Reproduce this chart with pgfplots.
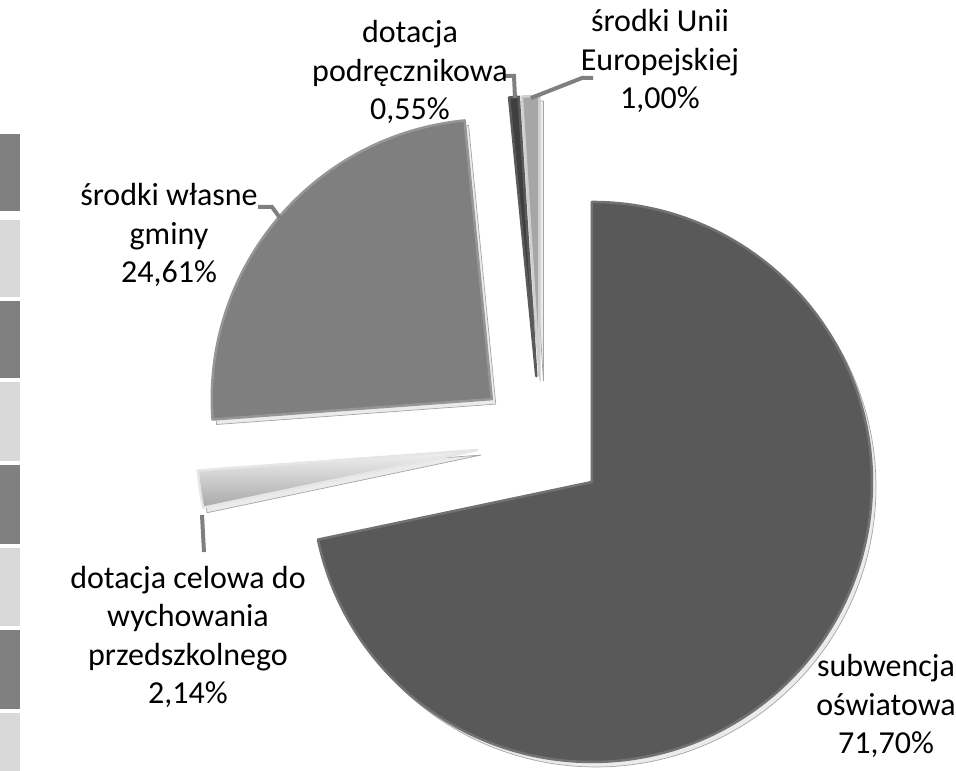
\documentclass[border=0pt]{standalone}
\usepackage{pgfplots}
\pgfplotsset{compat=1.18}
\usepackage{pgfplotstable}
\usepackage{fontspec}
\setmainfont{Carlito}
\definecolor{cSub}{HTML}{595959}
\definecolor{cSubE}{HTML}{727272}
\definecolor{cCel}{HTML}{A8A8A8}
\definecolor{cCelT}{HTML}{F2F2F2}
\definecolor{cCelE}{HTML}{E6E6E6}
\definecolor{cWl}{HTML}{7F7F7F}
\definecolor{cWlE}{HTML}{969696}
\definecolor{cPod}{HTML}{3F3F3F}
\definecolor{cPodE}{HTML}{5A5A5A}
\definecolor{cUE}{HTML}{A6A6A6}
\definecolor{cUEE}{HTML}{CFCFCF}
\definecolor{cLead}{HTML}{7F7F7F}
\definecolor{cBoxD}{HTML}{808080}
\definecolor{cBoxL}{HTML}{D9D9D9}

% shares in percent, clockwise from 12 o'clock
\pgfplotstableread{
share
71.70
2.14
24.61
0.55
1.00
}\piedata

\def\Px{541.5}\def\Py{330}\def\R{280}\def\D{65}

\newcommand\slice[4]{% row, fill style, edge, mode (0 shadow / 1 slice)
  \pgfplotstablegetelem{#1}{share}\of\piedata
  \pgfmathsetmacro\sA{\cum}%
  \pgfmathsetmacro\sB{\cum-3.6*\pgfplotsretval}%
  \xdef\cum{\sB}%
  \pgfmathsetmacro\sM{(\sA+\sB)/2}%
  \pgfmathsetmacro\cx{\Px+\D*cos(\sM)}%
  \pgfmathsetmacro\cy{\Py+\D*sin(\sM)}%
  \pgfmathsetmacro\ax{\cx+\R*cos(\sA)}%
  \pgfmathsetmacro\ay{\cy+\R*sin(\sA)}%
  \ifnum#4=0
    \pgfmathsetmacro\cx{\cx+4}\pgfmathsetmacro\cy{\cy-5}%
    \pgfmathsetmacro\ax{\ax+4}\pgfmathsetmacro\ay{\ay-5}%
    \edef\tmp{\noexpand\filldraw[fill=black!8, draw=black!35, line width=0.7pt, line join=round] (axis cs:\cx,\cy) -- (axis cs:\ax,\ay) arc[start angle=\sA, end angle=\sB, radius=\R] -- cycle;}%
  \else
    \edef\tmp{\noexpand\filldraw[#2, draw=#3, line width=2.5pt, line join=round] (axis cs:\cx,\cy) -- (axis cs:\ax,\ay) arc[start angle=\sA, end angle=\sB, radius=\R] -- cycle;}%
  \fi
  \tmp
}

\begin{document}
\begin{tikzpicture}
\begin{axis}[
  scale only axis, width=956pt, height=771pt,
  xmin=0, xmax=956, ymin=0, ymax=771,
  hide axis, clip=false,
]
\coordinate (SW) at (axis cs:0,0);
\coordinate (NE) at (axis cs:956,771);
% left strip (cut-off table)
\fill[cBoxD] (axis cs:0,637) rectangle (axis cs:20,560);
\fill[cBoxL] (axis cs:0,551) rectangle (axis cs:20,474);
\fill[cBoxD] (axis cs:0,470) rectangle (axis cs:20,393);
\fill[cBoxL] (axis cs:0,389) rectangle (axis cs:20,310);
\fill[cBoxD] (axis cs:0,306) rectangle (axis cs:20,227);
\fill[cBoxL] (axis cs:0,223) rectangle (axis cs:20,145);
\fill[cBoxD] (axis cs:0,141) rectangle (axis cs:20,62);
\fill[cBoxL] (axis cs:0,58) rectangle (axis cs:20,0);
% shadows
\xdef\cum{90}
\slice{0}{}{}{0}
\slice{1}{}{}{0}
\slice{2}{}{}{0}
\slice{3}{}{}{0}
\slice{4}{}{}{0}
% slices
\xdef\cum{90}
\slice{0}{fill=cSub}{cSubE}{1}
\slice{1}{top color=cCelT, bottom color=cCel}{cCelE}{1}
\slice{2}{fill=cWl}{cWlE}{1}
\slice{3}{fill=cPod}{cPodE}{1}
\slice{4}{fill=cUE}{cUEE}{1}
% leader lines
\draw[cLead, line width=4pt] (axis cs:503,695) -- (axis cs:514,695) -- (axis cs:515,673);
\draw[cLead, line width=4pt] (axis cs:531,673) -- (axis cs:582,693) -- (axis cs:593,693);
\draw[cLead, line width=4pt] (axis cs:258,564) -- (axis cs:272,564) -- (axis cs:280,553);
\draw[cLead, line width=4pt] (axis cs:202,256) -- (axis cs:204,219);
% labels
\tikzset{lab/.style={align=center, font=\fontsize{32}{38.5}\selectfont, inner sep=0pt}}
\node[lab] at (axis cs:410,699) {dotacja\\podręcznikowa\\0,55\%};
\node[lab] at (axis cs:660,710) {środki Unii\\Europejskiej\\1,00\%};
\node[lab] at (axis cs:169,536) {środki własne\\gminy\\24,61\%};
\node[lab] at (axis cs:188,134) {dotacja celowa do\\wychowania\\przedszkolnego\\2,14\%};
\node[lab] at (axis cs:886,65) {subwencja\\oświatowa\\71,70\%};
\end{axis}
\pgfresetboundingbox
\path (SW) rectangle (NE);
\end{tikzpicture}
\end{document}
